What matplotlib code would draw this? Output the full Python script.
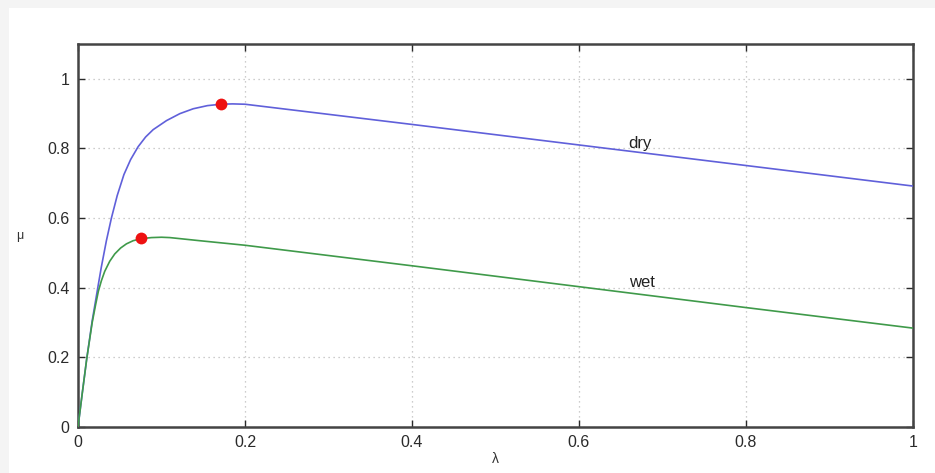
import matplotlib
matplotlib.use("Agg")
import matplotlib.pyplot as plt
from matplotlib.patches import Rectangle

lam_dry = [0, 0.005, 0.0104, 0.017, 0.0244, 0.028, 0.034, 0.040, 0.047, 0.055,
           0.063, 0.072, 0.081, 0.090, 0.106, 0.122, 0.138, 0.155, 0.171, 0.185,
           0.2, 0.4, 0.6, 0.8, 1.0]
mu_dry = [0, 0.095, 0.195, 0.305, 0.41, 0.46, 0.535, 0.60, 0.665, 0.725,
          0.768, 0.805, 0.833, 0.854, 0.880, 0.900, 0.914, 0.923, 0.927, 0.928,
          0.927, 0.869, 0.810, 0.751, 0.692]

lam_wet = [0, 0.005, 0.0104, 0.017, 0.021, 0.0244, 0.028, 0.032, 0.038, 0.044,
           0.051, 0.058, 0.066, 0.076, 0.088, 0.100, 0.110, 0.146, 0.2, 0.4,
           0.6, 0.8, 1.0]
mu_wet = [0, 0.095, 0.195, 0.30, 0.35, 0.39, 0.42, 0.447, 0.476, 0.497,
          0.514, 0.526, 0.535, 0.541, 0.544, 0.545, 0.544, 0.535, 0.522, 0.463,
          0.403, 0.343, 0.284]

# maximum-friction points
peak_lam = [0.171, 0.076]
peak_mu = [0.927, 0.542]

xticks = [0, 0.2, 0.4, 0.6, 0.8, 1]
xticklabels = ["0", "0.2", "0.4", "0.6", "0.8", "1"]
yticks = [0, 0.2, 0.4, 0.6, 0.8, 1]
yticklabels = ["0", "0.2", "0.4", "0.6", "0.8", "1"]

plt.rcParams["font.family"] = ["Liberation Sans", "DejaVu Sans"]

fig = plt.figure(figsize=(9.35, 4.73), dpi=100)
fig.patch.set_facecolor("white")
# light grey strips along the top and left edge
fig.patches.append(Rectangle((0, 1 - 8 / 473), 1, 8 / 473, transform=fig.transFigure,
                             facecolor="#f4f4f4", edgecolor="none", zorder=0))
fig.patches.append(Rectangle((0, 0), 9 / 935, 1, transform=fig.transFigure,
                             facecolor="#f4f4f4", edgecolor="none", zorder=0))

ax = fig.add_axes([78 / 935, 46 / 473, 835 / 935, 383 / 473])
ax.plot(lam_dry, mu_dry, color="#6060da", lw=1.2, zorder=3)
ax.plot(lam_wet, mu_wet, color="#3f9a4a", lw=1.2, zorder=3)
ax.plot(peak_lam, peak_mu, "o", color="#ee1111", markersize=8.5, mec="none", zorder=4)

ax.text(0.673, 0.813, "dry", fontsize=12, color="#222222", ha="center", va="center")
ax.text(0.676, 0.415, "wet", fontsize=12, color="#222222", ha="center", va="center")

ax.set_xlim(0, 1)
ax.set_ylim(0, 1.1)
ax.set_xticks(xticks)
ax.set_xticklabels(xticklabels)
ax.set_yticks(yticks)
ax.set_yticklabels(yticklabels)
ax.tick_params(direction="in", length=5, width=1, colors="#2a2a2a", labelsize=11.5,
               top=True, right=True, pad=6)
ax.grid(True, linestyle=(0, (1, 3)), color="#bdbdbd", lw=0.9)
for s in ax.spines.values():
    s.set_color("#444444")
    s.set_linewidth(1.8)

ax.set_xlabel("λ", fontsize=10, color="#333333", labelpad=1)
ax.set_ylabel("μ", fontsize=9, color="#333333", rotation=0, labelpad=20, va="center")

fig.savefig("out.png", dpi=100)
